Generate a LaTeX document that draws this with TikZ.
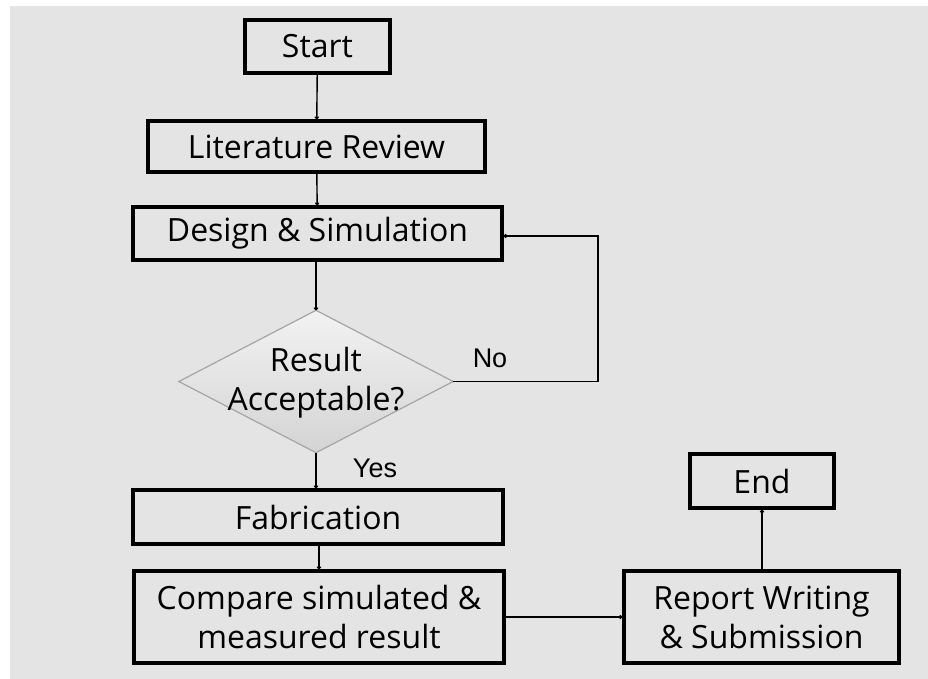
\documentclass[tikz,border=0pt]{standalone}
\usepackage{fontspec}
\setmainfont{Open Sans}
\newfontfamily\labelfont{Liberation Sans}
\usetikzlibrary{arrows.meta}
\definecolor{pagegray}{RGB}{228,228,228}
\definecolor{decborder}{RGB}{165,165,165}
\begin{document}
\begin{tikzpicture}[x=1pt,y=-1pt,
  stepbox/.style={draw=black,line width=3.3pt,inner sep=0pt,align=center,
    font=\fontsize{32}{39}\selectfont},
  flow/.style={line width=1.4pt,-{To[length=3pt,width=4.5pt]}},
  answer/.style={font=\labelfont\fontsize{27}{30}\selectfont}]
\useasboundingbox (0,0) rectangle (928,679);
\fill[white] (0,0) rectangle (928,679);
\fill[pagegray] (10,6) rectangle (928,679);

% process boxes
\node[stepbox,minimum width=145pt,minimum height=53pt] (start) at (317.5,46.5) {Start};
\node[stepbox,minimum width=337pt,minimum height=51pt] (lit) at (316.5,146.5) {Literature Review};
\node[stepbox,minimum width=369pt,minimum height=53pt] (design) at (317.5,233.5) {Design \& Simulation};
\node[stepbox,minimum width=370pt,minimum height=54pt] (fab) at (318,517) {Fabrication};
\node[stepbox,minimum width=370pt,minimum height=92pt] (cmp) at (319,617) {Compare simulated \&\\measured result};
\node[stepbox,minimum width=275pt,minimum height=92pt] (rep) at (761.5,617) {Report Writing\\\& Submission};
\node[stepbox,minimum width=144pt,minimum height=54pt] (finish) at (762,481) {End};

% decision diamond
\node[minimum width=274pt,minimum height=142pt,inner sep=0pt] (dec) at (316,381.5) {};
\shade[top color=white!95!black,bottom color=white!83!black,draw=decborder,line width=1.2pt]
  (dec.north) -- (dec.east) -- (dec.south) -- (dec.west) -- cycle;
\node[align=center,font=\fontsize{32}{39}\selectfont] (dectext) at (316,383) {Result\\Acceptable?};

% connectors
\draw[flow] (start) -- (lit);
\draw[flow] (lit) -- (design);
\draw[flow] (design.south -| dec.north) -- (dec.north);
\draw[flow] (dec.south) -- (fab.north -| dec.south);
\draw[flow] (fab.south -| cmp.north) -- (cmp.north);
\draw[flow] (cmp) -- (rep);
\draw[flow] (rep.north -| finish.south) -- (finish.south);
\coordinate (loop) at (598,381.5);
\draw[flow] (dec.east) -- (loop) |- ([yshift=-2.5pt]design.east);

% branch labels
\node[answer] (nolabel) at (490,358) {No};
\node[answer] (yeslabel) at (375,468) {Yes};
\end{tikzpicture}
\end{document}
